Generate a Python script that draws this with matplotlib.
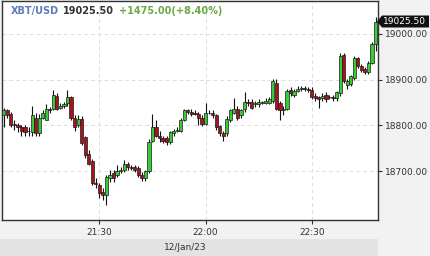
import matplotlib
matplotlib.use("Agg")
import matplotlib.pyplot as plt
import matplotlib.dates as mdates
from matplotlib.patches import Rectangle, Polygon
import pandas as pd

# one-minute candles XBT/USD, 12/Jan/23 21:03 -> 22:48
opens = [18822, 18833, 18826, 18804, 18800, 18796, 18796, 18789, 18785, 18817,
         18783, 18817, 18813, 18837, 18837, 18865, 18839, 18843, 18848, 18861,
         18817, 18800, 18815, 18774, 18737, 18722, 18674, 18670, 18654, 18648,
         18685, 18696, 18691, 18700, 18702, 18715, 18709, 18709, 18707, 18693,
         18685, 18700, 18767, 18796, 18778, 18772, 18772, 18763, 18783, 18789,
         18789, 18813, 18833, 18830, 18828, 18826, 18817, 18804, 18828, 18828,
         18822, 18798, 18783, 18783, 18811, 18828, 18837, 18822, 18835, 18852,
         18852, 18846, 18846, 18850, 18850, 18850, 18854, 18893, 18848, 18833,
         18837, 18878, 18867, 18876, 18880, 18881, 18880, 18878, 18865, 18861,
         18859, 18867, 18861, 18863, 18859, 18870, 18954, 18889, 18891, 18904,
         18946, 18930, 18924, 18917, 18937, 18978]
highs = [18839, 18837, 18830, 18811, 18806, 18800, 18802, 18796, 18843, 18828,
         18826, 18833, 18846, 18841, 18878, 18870, 18848, 18852, 18878, 18865,
         18822, 18822, 18820, 18778, 18746, 18728, 18685, 18674, 18663, 18691,
         18702, 18702, 18713, 18709, 18724, 18720, 18713, 18713, 18711, 18698,
         18704, 18770, 18826, 18811, 18787, 18776, 18776, 18789, 18793, 18796,
         18817, 18837, 18837, 18835, 18833, 18830, 18822, 18848, 18833, 18833,
         18826, 18802, 18787, 18820, 18837, 18859, 18843, 18837, 18872, 18857,
         18857, 18854, 18857, 18854, 18859, 18861, 18902, 18902, 18854, 18843,
         18880, 18883, 18880, 18885, 18885, 18885, 18883, 18883, 18870, 18865,
         18870, 18872, 18867, 18867, 18876, 18957, 18959, 18902, 18911, 18952,
         18950, 18935, 18928, 18941, 18983, 19037]
lows = [18796, 18817, 18796, 18791, 18785, 18778, 18778, 18778, 18778, 18778,
        18776, 18815, 18811, 18828, 18833, 18833, 18835, 18839, 18843, 18813,
        18789, 18796, 18757, 18730, 18713, 18670, 18663, 18641, 18637, 18626,
        18676, 18676, 18687, 18696, 18698, 18704, 18702, 18698, 18687, 18680,
        18680, 18696, 18763, 18774, 18765, 18761, 18757, 18759, 18778, 18785,
        18785, 18809, 18826, 18820, 18822, 18800, 18798, 18802, 18824, 18817,
        18791, 18778, 18767, 18778, 18807, 18824, 18813, 18817, 18830, 18843,
        18835, 18841, 18841, 18846, 18846, 18846, 18850, 18833, 18811, 18822,
        18833, 18865, 18863, 18872, 18876, 18876, 18874, 18857, 18854, 18839,
        18854, 18852, 18857, 18854, 18854, 18865, 18893, 18880, 18887, 18900,
        18926, 18917, 18913, 18913, 18933, 18963]
closes = [18833, 18822, 18800, 18800, 18796, 18789, 18785, 18787, 18822, 18783,
          18817, 18828, 18837, 18833, 18867, 18837, 18843, 18846, 18861, 18817,
          18796, 18815, 18761, 18735, 18717, 18674, 18672, 18652, 18648, 18687,
          18693, 18685, 18700, 18702, 18717, 18709, 18707, 18702, 18691, 18685,
          18700, 18765, 18796, 18778, 18772, 18767, 18763, 18785, 18789, 18791,
          18813, 18833, 18830, 18826, 18826, 18817, 18804, 18828, 18827, 18822,
          18796, 18783, 18778, 18815, 18833, 18837, 18817, 18833, 18852, 18848,
          18839, 18850, 18852, 18851, 18854, 18857, 18896, 18837, 18833, 18837,
          18876, 18870, 18876, 18880, 18881, 18880, 18878, 18861, 18859, 18857,
          18865, 18857, 18863, 18859, 18872, 18952, 18898, 18898, 18907, 18948,
          18930, 18922, 18917, 18937, 18978, 19025.5]
times = pd.date_range("2023-01-12 21:03", periods=len(closes), freq="min")

last_price = "19025.50"
change_txt = "+1475.00(+8.40%)"
y_ticks = [18700, 18800, 18900, 19000]
x_ticks = ["2023-01-12 21:30", "2023-01-12 22:00", "2023-01-12 22:30"]

W, H = 430, 256
fig = plt.figure(figsize=(W / 100, H / 100), dpi=100, facecolor="#f2f2f2")
ax = fig.add_axes([2 / W, 36 / H, 376 / W, 219.5 / H])
ax.set_facecolor("white")

# bottom grey band with the date
fig.patches.append(Rectangle((0, 0), 378 / W, 17 / H, transform=fig.transFigure,
                             facecolor="#e3e3e3", edgecolor="none", zorder=0))

x = mdates.date2num(times)
wd = 0.9 / 1440
for xi, o, h, l, c in zip(x, opens, highs, lows, closes):
    up = c >= o
    ax.vlines(xi, l, h, color="#111111", linewidth=0.8, zorder=2)
    body = max(abs(c - o), 1.2)
    ax.add_patch(Rectangle((xi - wd / 2, min(o, c)), wd, body,
                           facecolor="#35cc35" if up else "#a8121a",
                           edgecolor="#1c1c1c", linewidth=0.5, zorder=3))

ax.set_xlim(mdates.datestr2num("2023-01-12 21:02:30"),
            mdates.datestr2num("2023-01-12 22:48:42"))
ax.set_ylim(18594, 19072.4)

ax.yaxis.tick_right()
ax.set_yticks(y_ticks)
ax.yaxis.set_major_formatter(matplotlib.ticker.FormatStrFormatter("%.2f"))
ax.set_xticks(mdates.datestr2num(x_ticks))
ax.xaxis.set_major_formatter(mdates.DateFormatter("%H:%M"))
ax.tick_params(axis="both", direction="out", length=3, width=0.8, colors="#333333",
               labelsize=6.5, pad=2)
ax.tick_params(axis="x", pad=3)
ax.grid(True, color="#dddddd", linestyle=(0, (4, 3)), linewidth=0.7)
ax.set_axisbelow(True)
for s in ax.spines.values():
    s.set_color("#333333")
    s.set_linewidth(1.0)

fig.text(185 / W, 8.5 / H, "12/Jan/23", ha="center", va="center", fontsize=6.5,
         color="#333333")

# header
ty = (H - 11) / H
fig.text(11 / W, ty, "XBT/USD", ha="left", va="center", fontsize=7,
         fontweight="bold", color="#5b7bbd")
fig.text(63 / W, ty, last_price, ha="left", va="center", fontsize=7,
         fontweight="bold", color="#333333")
fig.text(119 / W, ty, change_txt, ha="left", va="center", fontsize=7,
         fontweight="bold", color="#6aaa45")

# last price marker on the right axis (pixel coords, y from top)
pts = [(377, 21.5), (382, 15.5), (429, 15.5), (429, 27.5), (382, 27.5)]
fig.patches.append(Polygon([(px / W, (H - py) / H) for px, py in pts], closed=True,
                           transform=fig.transFigure, facecolor="#111111",
                           edgecolor="none", zorder=5))
fig.text(383 / W, (H - 21.5) / H, last_price, ha="left", va="center", fontsize=6.5,
         color="white", zorder=6)

fig.savefig("out.png", dpi=100, facecolor=fig.get_facecolor())
